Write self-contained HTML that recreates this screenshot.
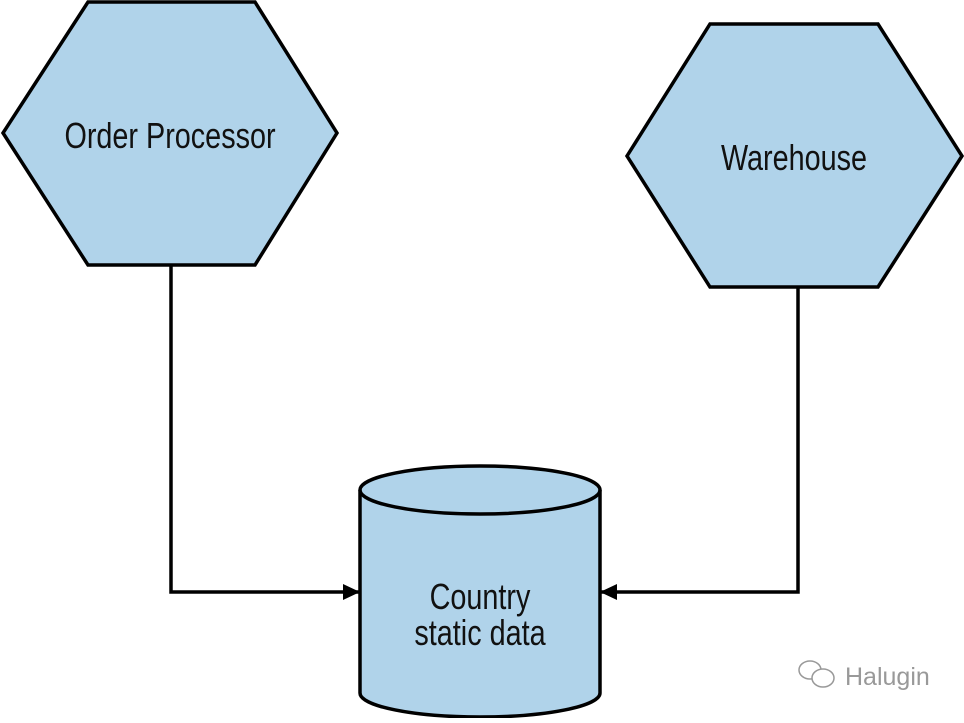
<!DOCTYPE html>
<html><head><style>
body{margin:0;width:964px;height:718px;background:#fff;overflow:hidden}
text{font-family:"Liberation Sans",sans-serif;font-size:36px;fill:#111}
</style></head><body>
<svg width="964" height="718" viewBox="0 0 964 718">
<defs><marker id="a" markerWidth="18" markerHeight="18" refX="16" refY="9" orient="auto" markerUnits="userSpaceOnUse" viewBox="0 0 18 18"><path d="M0,1 L17,9 L0,17z" fill="#000"/></marker></defs>
<g stroke="#000" stroke-width="3.5" fill="#b0d3ea">
<polygon points="3,133 88,2 255,2 337,133 255,265 88,265"/>
<polygon points="627,156 710,24 878,24 962,156 878,287 710,287"/>
<path d="M360,490 L360,693 A120,24 0 0 0 600,693 L600,490"/>
<ellipse cx="480" cy="490" rx="120" ry="24"/>
</g>
<g stroke="#000" stroke-width="3.5" fill="none">
<path d="M171,265 L171,592 L359,592" marker-end="url(#a)"/>
<path d="M798,287 L798,592 L601,592" marker-end="url(#a)"/>
</g>
<g text-anchor="middle">
<text transform="translate(170,148) scale(0.8,1)">Order Processor</text>
<text transform="translate(794,170) scale(0.8,1)">Warehouse</text>
<text transform="translate(480,609) scale(0.8,1)">Country</text>
<text transform="translate(480,645) scale(0.8,1)">static data</text>
</g>
<g fill="none" stroke="#999" stroke-width="1.5">
<ellipse cx="810" cy="670" rx="11" ry="9"/>
<ellipse cx="823" cy="678" rx="11" ry="9" fill="#fff"/>
</g>
<text x="845" y="685" style="font-size:25px;fill:#999">Halugin</text>
</svg>
</body></html>
